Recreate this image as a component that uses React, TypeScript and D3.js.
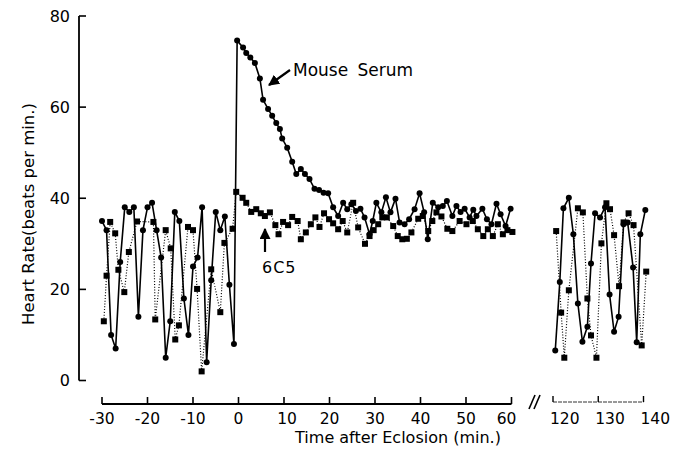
import React from 'react';
import * as d3 from 'd3';

// Mouse Serum series (filled circles, solid line), time in min, heart rate in beats/min
const serumTimesA = [-30, -29, -28, -27, -26, -25, -24, -23, -22, -21, -20, -19, -18, -17, -16, -15, -14, -13, -12, -11, -10, -9, -8, -7, -6, -5, -4, -3, -2, -1,
  -0.3, 1.0, 1.7, 2.6, 3.6, 4.7, 5.4, 6.5, 7.4, 8.3, 9.1, 9.6, 10.7, 11.8, 12.7, 13.7, 14.6, 15.6, 16.7, 17.7, 18.7, 19.7, 20.8, 21.9, 23, 23.9, 24.8, 25.8, 26.8, 27.7, 28.8, 29.5,
  30.3, 31.4, 32.4, 33.4, 34.5, 35.4, 36.5, 37.5, 38.7, 39.8, 40.8, 41.6, 42.7, 43.9, 44.9, 45.8, 47, 47.9, 48.8, 49.7, 50.8, 51.6, 52.3, 53.6, 54.6, 55.6, 56.7, 57.6, 58.7, 59.8];
const serumValuesA = [35, 33, 10, 7, 26, 38, 37, 38, 14, 33, 38, 39, 33, 27, 5, 13, 37, 35, 18, 10, 25, 27, 38, 4, 22, 37, 33, 36, 21, 8,
  74.6, 73.1, 71.9, 70.9, 69.7, 66.3, 61.6, 59.6, 58.1, 56.5, 55.2, 53.1, 51.1, 48, 45.3, 46.4, 45.3, 44.2, 42.1, 41.8, 41.2, 41.1, 38, 36.1, 39, 37.6, 38.7, 37.2, 37.7, 35.8, 32.1, 35,
  39, 36.9, 40.2, 36.9, 39.9, 34.7, 34.3, 35.4, 37.6, 41.1, 36.9, 31, 39, 38, 38.3, 39.4, 36.1, 38.3, 37, 37.7, 35.8, 37.5, 36.1, 37.7, 35.4, 34.3, 38.8, 36.5, 33.9, 37.7];

const serumTimesB = [120.5, 121.5, 122.3, 123.5, 124.5, 125.5, 126.5, 127.6, 128.4, 129.3, 130.4, 131.5, 132.5, 133.5, 134.5, 135.6, 136.5, 137.7, 138.5, 139.3, 140.4];
const serumValuesB = [6.6, 21.6, 37.8, 40.1, 32.1, 16.9, 8.5, 11.8, 25.7, 36.7, 35.8, 38, 18.9, 10.7, 14, 34.3, 34.7, 24.8, 8.4, 32.1, 37.4];

// 6C5 series (filled squares, dotted line)
const c5TimesA = [-29.6, -29.0, -28.2, -27.1, -26.4, -25.1, -24.1, -22.3, -18.7, -18.3, -16.0, -14.9, -13.9, -13.1, -11.1, -10.0, -9.1, -8.1, -6.0, -4.0, -3.1, -1.3, -0.5,
  0.9, 1.7, 2.8, 3.9, 4.9, 5.8, 6.9, 8.1, 8.8, 9.8, 10.9, 11.8, 13, 13.7, 14.8, 15.9, 16.9, 17.8, 18.8, 19.9, 20.8, 21.9, 22.9, 23.9, 25.2, 26.3, 27.8, 28.8, 29.7,
  30.7, 31.6, 32.6, 34, 35, 36, 37, 38, 39.5, 40.5, 41.7, 42.6, 43.5, 44.6, 45.9, 47, 48.6, 50.1, 51.5, 52.6, 53.8, 54.8, 55.9, 57, 58.1, 59.1, 60.2];
const c5ValuesA = [13, 23, 34.8, 32.3, 24.3, 19.4, 28.2, 34.9, 34.8, 13.4, 33, 29, 9, 12.1, 33.7, 33, 20.1, 2, 24.4, 15, 30.2, 33.3, 41.4,
  40.1, 39, 37, 37.6, 36.7, 36.1, 36.9, 34.1, 32.1, 34.8, 34.1, 35.9, 35, 31, 32.5, 34.3, 35.8, 33.7, 36.7, 35.4, 34.5, 33.2, 35, 32.5, 39, 33.6, 30, 31.7, 33,
  34.3, 35.8, 35.8, 33.9, 31.7, 31, 31.1, 32.5, 35.5, 36.1, 32.8, 35, 36.9, 36, 33.3, 32.8, 35, 34.3, 35, 33.2, 31.7, 33.2, 31.7, 34.3, 32.1, 33, 32.6];

const c5TimesB = [120.7, 121.8, 122.5, 123.5, 125.5, 126.6, 127.6, 128.4, 129.6, 130.7, 131.8, 132.6, 133.5, 134.6, 135.6, 136.7, 137.8, 139.6, 140.6];
const c5ValuesB = [32.8, 14.9, 5, 19.8, 37.8, 36.9, 18, 9.9, 5, 30.1, 38.9, 37.6, 31.9, 20.7, 34.7, 36.7, 34.1, 7.7, 23.9];

const xTicksLeft = [-30, -20, -10, 0, 10, 20, 30, 40, 50, 60];
const xTicksRight = [120, 130, 140];
const yTicks = [0, 20, 40, 60, 80];

const yTitle = 'Heart Rate(beats per min.)';
const xTitle = 'Time after Eclosion (min.)';
const serumLabel = 'Mouse Serum';
const c5Label = '6C5';

const FONT = 'DejaVu Sans';

export default function App() {
  const W = 682, H = 449;
  const xL = d3.scaleLinear().domain([-30, 60]).range([102, 511.5]);
  const xR = d3.scaleLinear().domain([120, 140]).range([553, 643.5]);
  const y = d3.scaleLinear().domain([0, 80]).range([380.5, 16]);

  const mk = (ts: number[], vs: number[]) => ts.map((t, i) => [t, vs[i]] as [number, number]);
  const sA = mk(serumTimesA, serumValuesA);
  const sB = mk(serumTimesB, serumValuesB);
  const cA = mk(c5TimesA, c5ValuesA);
  const cB = mk(c5TimesB, c5ValuesB);

  const lineL = d3.line<[number, number]>().x(d => xL(d[0])).y(d => y(d[1]));
  const lineR = d3.line<[number, number]>().x(d => xR(d[0])).y(d => y(d[1]));

  const axisY = 404;
  const axisYR = 402;
  const sq = 6;

  return (
    <svg width={W} height={H} style={{ position: 'absolute', left: 0, top: 0, background: '#fff' }} fontFamily={FONT}>
      {/* Y axis */}
      <line x1={79} x2={79} y1={y(80)} y2={y(0)} stroke="#000" strokeWidth={1.8} />
      {yTicks.map(t => (
        <g key={'yt' + t}>
          <line x1={79} x2={86} y1={y(t)} y2={y(t)} stroke="#000" strokeWidth={1.6} />
          <text x={70} y={y(t) + 5.5} textAnchor="end" fontSize={16}>{t}</text>
        </g>
      ))}
      <text transform={`translate(34,214) rotate(-90)`} textAnchor="middle" fontSize={16.5}>{yTitle}</text>

      {/* X axis left */}
      <line x1={xL(-30)} x2={xL(60)} y1={axisY} y2={axisY} stroke="#000" strokeWidth={1.8} />
      {xTicksLeft.map(t => (
        <g key={'xl' + t}>
          <line x1={xL(t)} x2={xL(t)} y1={axisY} y2={axisY - 7} stroke="#000" strokeWidth={1.6} />
          <text x={xL(t) + (String(t).startsWith('1') ? 3 : 0) - (t === 60 ? 5 : 0)} y={424} textAnchor="middle" fontSize={15.5}>{t}</text>
        </g>
      ))}
      {/* X axis right */}
      <line x1={xR(120)} x2={xR(140)} y1={axisYR} y2={axisYR} stroke="#333" strokeWidth={1} strokeDasharray="4,1" />
      {xTicksRight.map(t => (
        <g key={'xr' + t}>
          <line x1={xR(t)} x2={xR(t)} y1={axisYR} y2={axisYR - 6} stroke="#000" strokeWidth={1.4} />
          <text x={xR(t) - 3} y={424} textAnchor="start" fontSize={15.5}>{t}</text>
        </g>
      ))}
      {/* axis break */}
      <line x1={529} y1={409} x2={535} y2={395} stroke="#000" strokeWidth={1.6} />
      <line x1={534} y1={409} x2={540} y2={395} stroke="#000" strokeWidth={1.6} />
      <text x={398} y={443} textAnchor="middle" fontSize={16}>{xTitle}</text>

      {/* 6C5 series: dotted lines + squares */}
      <path d={lineL(cA) || ''} fill="none" stroke="#000" strokeWidth={1.2} strokeDasharray="1,1.8" />
      <path d={lineR(cB) || ''} fill="none" stroke="#000" strokeWidth={1.2} strokeDasharray="1,1.8" />
      {cA.map((d, i) => <rect key={'ca' + i} x={xL(d[0]) - sq / 2} y={y(d[1]) - sq / 2} width={sq} height={sq} fill="#000" />)}
      {cB.map((d, i) => <rect key={'cb' + i} x={xR(d[0]) - sq / 2} y={y(d[1]) - sq / 2} width={sq} height={sq} fill="#000" />)}

      {/* Mouse serum series: solid lines + circles */}
      <path d={lineL(sA) || ''} fill="none" stroke="#000" strokeWidth={1.6} />
      <path d={lineR(sB) || ''} fill="none" stroke="#000" strokeWidth={1.6} />
      {sA.map((d, i) => <circle key={'sa' + i} cx={xL(d[0])} cy={y(d[1])} r={3} fill="#000" />)}
      {sB.map((d, i) => <circle key={'sb' + i} cx={xR(d[0])} cy={y(d[1])} r={3} fill="#000" />)}

      {/* annotations */}
      <defs>
        <marker id="ah" viewBox="0 0 10 10" refX="9" refY="5" markerWidth="5" markerHeight="5" orient="auto">
          <path d="M0,0 L10,5 L0,10 z" fill="#000" />
        </marker>
      </defs>
      <line x1={290} y1={70} x2={269} y2={85} stroke="#000" strokeWidth={2.2} markerEnd="url(#ah)" />
      <text x={293} y={76} fontSize={17} wordSpacing={4}>{serumLabel}</text>
      <line x1={265} y1={252} x2={265} y2={229} stroke="#000" strokeWidth={2.2} markerEnd="url(#ah)" />
      <text x={262} y={273} fontSize={16} letterSpacing={1}>{c5Label}</text>
    </svg>
  );
}
